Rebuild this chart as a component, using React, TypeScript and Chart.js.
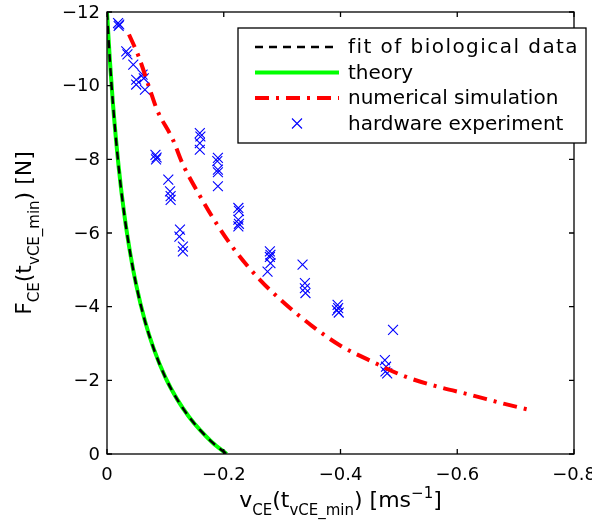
import React, { useEffect, useRef } from "react";
import { Chart, registerables } from "chart.js";

Chart.register(...registerables);

// ---- data ----
const fitV = [0, -0.005, -0.01, -0.02, -0.03, -0.04, -0.05, -0.065, -0.08, -0.1, -0.12, -0.14, -0.16, -0.18, -0.205];
const fitF = [-12, -10.67, -9.55, -7.79, -6.46, -5.43, -4.59, -3.61, -2.86, -2.08, -1.49, -1.02, -0.64, -0.32, 0];

const theoryV = [0, -0.005, -0.01, -0.02, -0.03, -0.04, -0.05, -0.065, -0.08, -0.1, -0.12, -0.14, -0.16, -0.18, -0.205];
const theoryF = [-12, -10.67, -9.55, -7.79, -6.46, -5.43, -4.59, -3.61, -2.86, -2.08, -1.49, -1.02, -0.64, -0.32, 0];

const simV = [-0.0377, -0.054, -0.0736, -0.0856, -0.113, -0.1295, -0.158, -0.189, -0.222, -0.262, -0.305, -0.351, -0.4, -0.454, -0.508, -0.566, -0.624, -0.681, -0.723];
const simF = [-11.39, -10.8, -9.89, -9.35, -8.53, -7.88, -7.04, -6.22, -5.47, -4.73, -4.08, -3.48, -2.94, -2.51, -2.12, -1.83, -1.6, -1.36, -1.2];

const expV = [
  -0.019, -0.02, -0.021, -0.033, -0.035, -0.045, -0.05, -0.05, -0.061, -0.063, -0.065,
  -0.083, -0.085, -0.084, -0.105, -0.108, -0.109, -0.109, -0.125, -0.124, -0.13, -0.13,
  -0.159, -0.16, -0.159, -0.159, -0.19, -0.189, -0.19, -0.19, -0.19,
  -0.225, -0.226, -0.225, -0.226, -0.225,
  -0.279, -0.28, -0.279, -0.28, -0.275, -0.335, -0.339, -0.339, -0.34,
  -0.395, -0.396, -0.394, -0.397, -0.49, -0.476, -0.478, -0.477, -0.48,
];
const expF = [
  -11.7, -11.62, -11.66, -10.93, -10.85, -10.57, -10.16, -10.03, -10.3, -10.2, -9.89,
  -8.12, -8.05, -8.0, -7.45, -7.13, -7.0, -6.9, -6.09, -5.9, -5.63, -5.5,
  -8.71, -8.62, -8.44, -8.26, -8.04, -7.95, -7.72, -7.65, -7.27,
  -6.68, -6.6, -6.36, -6.25, -6.18,
  -5.5, -5.41, -5.35, -5.18, -4.95, -5.14, -4.64, -4.5, -4.37,
  -4.05, -3.96, -3.9, -3.84, -3.37, -2.55, -2.37, -2.24, -2.19,
];

const xTicks = [0, -0.2, -0.4, -0.6, -0.8];
const yTicks = [0, -2, -4, -6, -8, -10, -12];
const legendLabels = ["fit of biological data", "theory", "numerical simulation", "hardware experiment"];

const FONT = "DejaVu Sans";

const zip = (xs: number[], ys: number[]) => xs.map((x, i) => ({ x, y: ys[i] }));
const fmt = (v: number, d: number) => (Math.abs(v) < 1e-9 ? "0" : "\u2212" + Math.abs(v).toFixed(d));

type Seg = { t: string; s: number; dy: number };

function fillText(ctx: CanvasRenderingContext2D, text: string, x: number, y: number, size: number, align: CanvasTextAlign, base: CanvasTextBaseline) {
  ctx.font = `${size}px "${FONT}"`;
  ctx.textAlign = align;
  ctx.textBaseline = base;
  ctx.fillText(text, x, y);
}

function segWidth(ctx: CanvasRenderingContext2D, segs: Seg[]) {
  let w = 0;
  for (const g of segs) {
    ctx.font = `${g.s}px "${FONT}"`;
    w += ctx.measureText(g.t).width;
  }
  return w;
}
function drawSegs(ctx: CanvasRenderingContext2D, segs: Seg[]) {
  let cx = 0;
  ctx.textBaseline = "alphabetic";
  ctx.textAlign = "left";
  for (const g of segs) {
    ctx.font = `${g.s}px "${FONT}"`;
    ctx.fillText(g.t, cx, g.dy);
    cx += ctx.measureText(g.t).width;
  }
}

const MAIN = 22, SUB = 15;
const xTitle: Seg[] = [
  { t: "v", s: MAIN, dy: 0 },
  { t: "CE", s: SUB, dy: 8 },
  { t: "(t", s: MAIN, dy: 0 },
  { t: "vCE_min", s: SUB, dy: 8 },
  { t: ") [ms", s: MAIN, dy: 0 },
  { t: "\u22121", s: SUB, dy: -9 },
  { t: "]", s: MAIN, dy: 0 },
];
const yTitle: Seg[] = [
  { t: "F", s: MAIN, dy: 0 },
  { t: "CE", s: SUB, dy: 8 },
  { t: "(t", s: MAIN, dy: 0 },
  { t: "vCE_min", s: SUB, dy: 8 },
  { t: ") [N]", s: MAIN, dy: 0 },
];

const decor = {
  id: "decor",
  afterDraw(chart: any) {
    const { ctx, chartArea: a, scales } = chart;
    const xs = scales.x, ys = scales.y;
    ctx.save();
    // frame
    ctx.strokeStyle = "#000";
    ctx.lineWidth = 1.3;
    ctx.strokeRect(a.left, a.top, a.right - a.left, a.bottom - a.top);
    // inner ticks on all four sides + tick labels from the scales
    const tl = 5;
    ctx.beginPath();
    for (const v of xTicks) {
      const p = xs.getPixelForValue(v);
      ctx.moveTo(p, a.bottom); ctx.lineTo(p, a.bottom - tl);
      ctx.moveTo(p, a.top); ctx.lineTo(p, a.top + tl);
    }
    for (const v of yTicks) {
      const p = ys.getPixelForValue(v);
      ctx.moveTo(a.left, p); ctx.lineTo(a.left + tl, p);
      ctx.moveTo(a.right, p); ctx.lineTo(a.right - tl, p);
    }
    ctx.stroke();
    ctx.fillStyle = "#000";
    for (const v of xTicks) {
      fillText(ctx, fmt(v, 1), xs.getPixelForValue(v), a.bottom + 21, 18, "center", "middle");
    }
    for (const v of yTicks) {
      fillText(ctx, fmt(v, 0), a.left - 7, ys.getPixelForValue(v) + 1, 18, "right", "middle");
    }

    // axis titles
    const xw = segWidth(ctx, xTitle);
    ctx.save();
    ctx.translate((a.left + a.right) / 2 - xw / 2, 507);
    drawSegs(ctx, xTitle);
    ctx.restore();
    const yw = segWidth(ctx, yTitle);
    ctx.save();
    ctx.translate(31, (a.top + a.bottom) / 2 + yw / 2);
    ctx.rotate(-Math.PI / 2);
    drawSegs(ctx, yTitle);
    ctx.restore();

    // legend
    const lx = 238, ly = 28, lw = 348, lh = 115;
    ctx.fillStyle = "#fff";
    ctx.fillRect(lx, ly, lw, lh);
    ctx.strokeStyle = "#000";
    ctx.lineWidth = 1.3;
    ctx.strokeRect(lx, ly, lw, lh);
    const rows = [47, 72.5, 98, 123.5];
    const spacing = ["1.45px", "0px", "0px", "0px"];
    const ds = chart.data.datasets;
    for (let i = 0; i < 4; i++) {
      const d = ds[i];
      const y = rows[i];
      if (i < 3) {
        ctx.save();
        ctx.strokeStyle = d.borderColor;
        ctx.lineWidth = d.borderWidth;
        ctx.setLineDash(d.borderDash || []);
        ctx.beginPath();
        ctx.moveTo(255, y);
        ctx.lineTo(339, y);
        ctx.stroke();
        ctx.restore();
      } else {
        ctx.save();
        ctx.strokeStyle = d.borderColor;
        ctx.lineWidth = 1.1;
        const r = 5, cx = 297;
        ctx.beginPath();
        ctx.moveTo(cx - r, y - r); ctx.lineTo(cx + r, y + r);
        ctx.moveTo(cx + r, y - r); ctx.lineTo(cx - r, y + r);
        ctx.stroke();
        ctx.restore();
      }
      ctx.save();
      ctx.fillStyle = "#000";
      (ctx as any).letterSpacing = spacing[i];
      fillText(ctx, legendLabels[i], 348, y + 1, 20, "left", "middle");
      ctx.restore();
    }
    ctx.restore();
  },
};

export default function App() {
  const ref = useRef<HTMLCanvasElement>(null);
  useEffect(() => {
    document.body.style.margin = "0";
    const chart = new Chart(ref.current!, {
      type: "scatter",
      data: {
        datasets: [
          {
            label: legendLabels[0],
            data: zip(fitV, fitF),
            showLine: true,
            borderColor: "#000000",
            borderWidth: 2.4,
            borderDash: [8, 6],
            pointRadius: 0,
            cubicInterpolationMode: "monotone",
          },
          {
            label: legendLabels[1],
            data: zip(theoryV, theoryF),
            showLine: true,
            borderColor: "#00ff00",
            borderWidth: 4,
            pointRadius: 0,
            cubicInterpolationMode: "monotone",
          },
          {
            label: legendLabels[2],
            data: zip(simV, simF),
            showLine: true,
            borderColor: "#ff0000",
            borderWidth: 4,
            borderDash: [14, 7, 3, 7],
            pointRadius: 0,
            cubicInterpolationMode: "monotone",
          },
          {
            label: legendLabels[3],
            data: zip(expV, expF),
            showLine: false,
            borderColor: "#0000ff",
            backgroundColor: "#0000ff",
            borderWidth: 1.1,
            pointStyle: "crossRot",
            pointRadius: 7,
          },
        ] as any,
      },
      options: {
        responsive: false,
        animation: false,
        layout: { padding: { top: 12, right: 18, left: 0, bottom: 0 } },
        plugins: { legend: { display: false }, tooltip: { enabled: false } },
        scales: {
          x: {
            type: "linear",
            min: -0.8,
            max: 0,
            reverse: true,
            grid: { display: false, drawTicks: false },
            border: { display: false },
            afterBuildTicks: (s: any) => { s.ticks = xTicks.map((v) => ({ value: v })); },
            afterFit: (s: any) => { s.height = 73; },
            ticks: { display: false },
          },
          y: {
            type: "linear",
            min: -12,
            max: 0,
            reverse: true,
            grid: { display: false, drawTicks: false },
            border: { display: false },
            afterBuildTicks: (s: any) => { s.ticks = yTicks.map((v) => ({ value: v })); },
            afterFit: (s: any) => { s.width = 107; },
            ticks: { display: false },
          },
        },
      },
      plugins: [decor],
    });
    return () => chart.destroy();
  }, []);
  return <canvas ref={ref} width={592} height={527} style={{ display: "block" }} />;
}
